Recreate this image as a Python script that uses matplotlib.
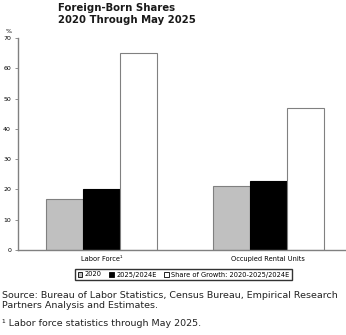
import numpy as np
import matplotlib.pyplot as plt

# Foreign-born shares by category
categories = ['Labor Force\u00b9', 'Occupied Rental Units']
series_names = ['2020', '2025/2024E', 'Share of Growth: 2020-2025/2024E']
share_2020 = [17, 21]
share_2025 = [20, 22.7]
share_growth = [65, 47]
yticks = [0, 10, 20, 30, 40, 50, 60, 70]

fig = plt.figure(figsize=(3.46, 3.35), dpi=100)
ax = fig.add_axes([18 / 346, 1 - 250 / 335, 1 - 18 / 346, 212 / 335])

x = np.arange(len(categories))
w = 0.222
edge = '#808080'
ax.bar(x - w, share_2020, w, color='#c0c0c0', edgecolor=edge, linewidth=0.8)
ax.bar(x, share_2025, w, color='black', edgecolor='black', linewidth=0.8)
ax.bar(x + w, share_growth, w, color='white', edgecolor=edge, linewidth=0.8)

ax.set_xlim(-0.5, 1.465)
ax.set_ylim(0, 70)
ax.set_yticks(yticks)
ax.set_yticklabels([str(t) for t in yticks], fontsize=4.5)
ax.set_xticks(x)
ax.set_xticklabels(categories, fontsize=4.8)
ax.tick_params(axis='x', length=0, pad=4)
ax.tick_params(axis='y', length=2, width=0.6, color=edge, pad=3)
for s in ['top', 'right']:
    ax.spines[s].set_visible(False)
for s in ['left', 'bottom']:
    ax.spines[s].set_color(edge)
    ax.spines[s].set_linewidth(1.0)
ax.text(-0.02, 1.025, '%', transform=ax.transAxes, fontsize=4.5, ha='right')

handles = [plt.Rectangle((0, 0), 1, 1, facecolor=c, edgecolor=ec, linewidth=0.6)
           for c, ec in [('#c0c0c0', 'black'), ('black', 'black'), ('white', 'black')]]
fig.legend(handles, series_names, loc='center', bbox_to_anchor=(183.5 / 346, 1 - 274.5 / 335),
           ncol=3, fontsize=4.8, frameon=True, fancybox=False, edgecolor='black',
           handlelength=0.7, handleheight=0.7, handletextpad=0.3, columnspacing=1.2,
           borderpad=0.35)

fig.text(58 / 346, 1 - 3 / 335, 'Foreign-Born Shares\n2020 Through May 2025',
         fontsize=7.3, fontweight='bold', va='top', ha='left', linespacing=1.25,
         color='#1a1a1a')

fig.text(2 / 346, 1 - 291 / 335,
         'Source: Bureau of Labor Statistics, Census Bureau, Empirical Research\nPartners Analysis and Estimates.',
         fontsize=6.8, va='top', ha='left', color='#222222', linespacing=1.15)
fig.text(2 / 346, 1 - 319 / 335, '\u00b9 Labor force statistics through May 2025.',
         fontsize=6.8, va='top', ha='left', color='#222222')

fig.savefig('out.png', dpi=100)
